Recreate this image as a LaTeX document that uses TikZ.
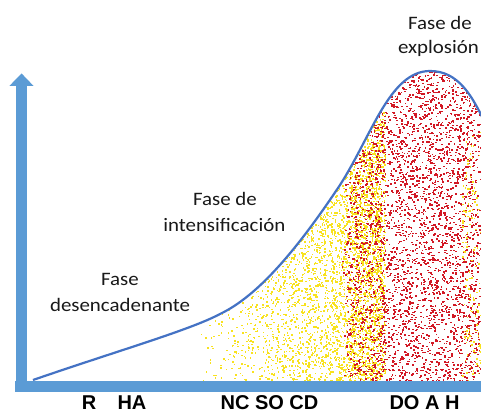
\documentclass[tikz,border=0pt]{standalone}
\usepackage{fontspec}
\setmainfont[FakeStretch=1.1]{Carlito}
\newfontfamily\boldlab{Liberation Sans Bold}
\definecolor{axisblue}{RGB}{91,155,213}
\definecolor{curveblue}{RGB}{68,114,196}
\definecolor{dotyel}{RGB}{248,226,30}
\definecolor{dotred}{RGB}{210,24,36}
\definecolor{txt}{RGB}{25,25,25}
\tikzset{
  phase/.style={font=\fontsize{19}{22}\selectfont, text=txt, anchor=base, inner sep=0pt},
  codes/.style={font=\boldlab\fontsize{20}{24}\selectfont, text=black, anchor=base, inner sep=0pt},
  ydot/.style={fill=dotyel},
  rdot/.style={fill=dotred},
}
\begin{document}
\begin{tikzpicture}[x=1pt,y=-1pt]
\useasboundingbox (0,0) rectangle (481,414);
\fill[white] (0,0) rectangle (481,414);
\pgfmathsetseed{7}
% dots under the curve
\begin{scope}
  \clip (33,380) .. controls (120,350) and (190,330) .. (220,314)
        .. controls (260,295) and (300,245) .. (340,185)
        .. controls (372,135) and (390,71) .. (430,71)
        .. controls (458,71) and (472,95) .. (481,115)
        -- (481,381) -- (33,381) -- cycle;
  \foreach \i in {1,...,4600}{
    \pgfmathsetmacro{\xx}{192+193*(rnd*0.999+0.001)^0.5}
    \pgfmathsetmacro{\yy}{110+272*rnd}
    \fill[ydot] (\xx,\yy) rectangle ++(1.5,1.5);
  }
  \foreach \i in {1,...,4000}{
    \pgfmathsetmacro{\xx}{348+134*rnd-10*rnd*rnd}
    \pgfmathsetmacro{\yy}{65+317*rnd}
    \fill[rdot] (\xx,\yy) rectangle ++(1.7,1.4);
  }
  \foreach \i in {1,...,350}{
    \pgfmathsetmacro{\xx}{350+32*rnd}
    \pgfmathsetmacro{\yy}{150+232*rnd}
    \fill[ydot] (\xx,\yy) rectangle ++(1.5,1.5);
  }
  \foreach \i in {1,...,150}{
    \pgfmathsetmacro{\xx}{462+18*rnd}
    \pgfmathsetmacro{\yy}{130+252*rnd}
    \fill[ydot] (\xx,\yy) rectangle ++(1.5,1.5);
  }
\end{scope}
% axes
\fill[axisblue] (16,86) rectangle (27.3,392);
\fill[axisblue] (9.3,86) -- (21.6,73.5) -- (33.6,86) -- cycle;
\fill[axisblue] (15,381) rectangle (481,392);
% curve
\begin{scope}
\clip (0,0) rectangle (481,414);
\coordinate (c0) at (33,380);
\coordinate (c1) at (220,314);
\coordinate (c2) at (340,185);
\coordinate (c3) at (430,71);
\coordinate (c4) at (486,125);
\draw[curveblue, line width=2.2pt] (c0) .. controls (120,350) and (190,330) .. (c1)
   .. controls (260,295) and (300,245) .. (c2)
   .. controls (372,135) and (390,71) .. (c3)
   .. controls (458,71) and (472,95) .. (c4);
\end{scope}
% phase labels
\node[phase] (ex1) at (440,29.3) {Fase de};
\node[phase] (ex2) at (438.5,53.3) {explosión};
\node[phase] (in1) at (225,205) {Fase de};
\node[phase] (in2) at (224.3,231.7) {intensificación};
\node[phase] (de1) at (120,285) {Fase};
\node[phase] (de2) at (120,311.7) {desencadenante};
% codes
\node[codes] (r) at (89,409.5) {R};
\node[codes] (ha) at (132,409.5) {HA};
\node[codes] (nc) at (269.5,409.5) {NC SO CD};
\node[codes] (do) at (424.5,409.5) {DO A H};
\end{tikzpicture}
\end{document}
